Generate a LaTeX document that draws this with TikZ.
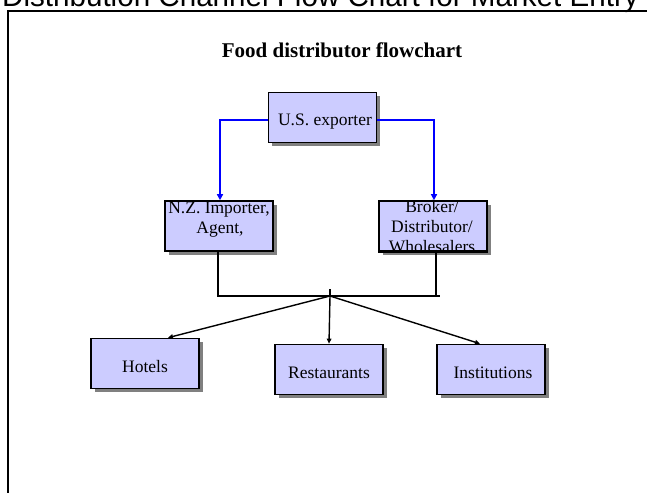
\documentclass[tikz,border=0pt]{standalone}
\usepackage{fontspec}
\setmainfont{Liberation Serif}
\newfontfamily\headfont{Liberation Sans}
\usetikzlibrary{arrows.meta,shadows}
\definecolor{boxfill}{HTML}{CCCCFF}
\definecolor{shadowgray}{HTML}{808080}
\begin{document}
\begin{tikzpicture}[x=1pt,y=-1pt,
  box/.style={draw=black, line width=1.6pt, fill=boxfill, minimum width=108pt, minimum height=50pt, inner sep=0pt,
    drop shadow={shadow xshift=3.5pt, shadow yshift=-3.5pt, fill=shadowgray, opacity=1}},
  txt/.style={font=\fontsize{17.5}{20}\selectfont, inner sep=0pt, anchor=base, text=black},
  blueconn/.style={draw=blue, line width=1.4pt, -{Triangle[length=6pt,width=6pt]}},
  blackline/.style={draw=black, line width=1.5pt},
  blackarrow/.style={draw=black, line width=1.4pt, -{Triangle[length=5pt,width=4.5pt]}}
]
\useasboundingbox (0,0) rectangle (647,492);
\clip (0,0) rectangle (647,492);
\fill[white] (0,0) rectangle (647,492);

% page heading (cut by the top edge, as in the reference) and frame
\node[inner sep=0pt, anchor=base west, font=\headfont\fontsize{29.6}{32}\selectfont] (head) at (2,6.5) {Distribution Channel Flow Chart for Market Entry};
\draw[line width=2pt] (8,500) -- (8,11.5) -- (660,11.5);

% title
\node[inner sep=0pt, anchor=base, font=\bfseries\fontsize{21}{24}\selectfont] (title) at (342,58) {Food distributor flowchart};

% boxes
\node[box] (exp) at (322.5,117.5) {};
\node[box] (nz) at (219,226) {};
\node[box] (brk) at (433,226) {};
\node[box] (hot) at (145,363.5) {};
\node[box] (res) at (329,369.5) {};
\node[box] (ins) at (491,369.5) {};

% box texts
\node[txt] (expt) at (325,125) {U.S. exporter};
\node[txt] (nzt1) at (219,213) {N.Z. Importer,};
\node[txt] (nzt2) at (220,233) {Agent,};
\node[txt] (brkt1) at (432,212) {Broker/};
\node[txt] (brkt2) at (432,232) {Distributor/};
\node[txt] (brkt3) at (432,252) {Wholesalers};
\node[txt] (hott) at (145,372) {Hotels};
\node[txt] (rest) at (329,378) {Restaurants};
\node[txt] (inst) at (493,378) {Institutions};
\draw[black, line width=1.6pt] (brk.south west) -- (brk.south east);

% blue connectors
\draw[blueconn] ([yshift=-2.5pt]exp.west) -| ([xshift=1pt]nz.north);
\draw[blueconn] ([yshift=-2.5pt]exp.east) -| ([xshift=1pt]brk.north);

% black joining lines
\coordinate (j) at (330,296);
\coordinate (jt) at (330,289);
\coordinate (hr) at (440,296);
\draw[blackline] ([xshift=-1pt]nz.south) -- ([xshift=-1pt]nz.south |- j) -- (hr);
\draw[blackline] ([xshift=3pt]brk.south) -- ([xshift=3pt]brk.south |- j);
\draw[blackline] (jt) -- (j);

% black arrows
\draw[blackarrow] (j) -- ([xshift=23pt]hot.north);
\draw[blackarrow] (j) -- (res.north);
\draw[blackarrow] (j) -- ([xshift=-11pt]ins.north);
\end{tikzpicture}
\end{document}
